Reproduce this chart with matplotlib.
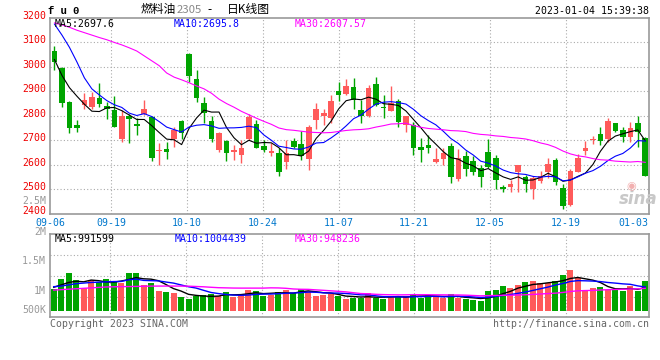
import numpy as np
import pandas as pd
import matplotlib
matplotlib.use("Agg")
import matplotlib.pyplot as plt
import matplotlib.transforms as mtransforms

# daily candles 2022-09-06 .. 2023-01-04, fu2305
opens = [3066, 2996, 2856, 2763, 2845, 2834, 2872, 2841, 2822, 2704,
         2800, 2767, 2807, 2796, 2655, 2662, 2706, 2779, 3054, 2951,
         2853, 2779, 2661, 2698, 2651, 2638, 2706, 2767, 2677, 2646,
         2648, 2609, 2698, 2685, 2625, 2784, 2797, 2789, 2902, 2889,
         2919, 2824, 2797, 2931, 2837, 2820, 2859, 2763, 2763, 2673,
         2681, 2609, 2621, 2677, 2542, 2636, 2616, 2587, 2653, 2627,
         2508, 2508, 2569, 2548, 2500, 2531, 2568, 2620, 2504, 2436,
         2570, 2657, 2700, 2726, 2706, 2769, 2743, 2711, 2769, 2709]
highs = [3086, 2998, 2861, 2782, 2894, 2898, 2934, 2856, 2882, 2824,
         2809, 2789, 2864, 2800, 2688, 2694, 2754, 2781, 3056, 2988,
         2875, 2797, 2732, 2700, 2681, 2702, 2807, 2782, 2702, 2688,
         2668, 2700, 2709, 2736, 2762, 2852, 2827, 2886, 2940, 2950,
         2954, 2865, 2927, 2957, 2886, 2920, 2870, 2800, 2774, 2709,
         2722, 2668, 2668, 2690, 2664, 2654, 2634, 2599, 2704, 2640,
         2518, 2539, 2600, 2559, 2552, 2575, 2627, 2629, 2522, 2582,
         2643, 2698, 2718, 2752, 2790, 2771, 2755, 2774, 2797, 2711]
lows = [2988, 2834, 2728, 2735, 2829, 2827, 2837, 2786, 2752, 2691,
        2689, 2723, 2804, 2613, 2599, 2624, 2674, 2706, 2940, 2856,
        2769, 2694, 2650, 2613, 2617, 2608, 2702, 2668, 2651, 2634,
        2552, 2584, 2668, 2617, 2579, 2744, 2763, 2770, 2859, 2886,
        2829, 2770, 2795, 2840, 2790, 2818, 2752, 2733, 2640, 2610,
        2646, 2608, 2599, 2523, 2535, 2552, 2559, 2507, 2588, 2501,
        2487, 2486, 2486, 2488, 2460, 2524, 2545, 2515, 2418, 2432,
        2568, 2640, 2684, 2679, 2692, 2733, 2692, 2692, 2674, 2553]
closes = [3018, 2854, 2751, 2748, 2865, 2875, 2847, 2827, 2755, 2800,
          2785, 2757, 2827, 2629, 2659, 2650, 2743, 2729, 2961, 2872,
          2810, 2703, 2730, 2646, 2661, 2668, 2793, 2670, 2661, 2654,
          2569, 2648, 2672, 2634, 2755, 2829, 2812, 2861, 2883, 2923,
          2864, 2797, 2913, 2842, 2830, 2852, 2773, 2800, 2670, 2658,
          2666, 2624, 2647, 2548, 2627, 2583, 2570, 2548, 2591, 2539,
          2501, 2519, 2599, 2522, 2545, 2554, 2603, 2528, 2429, 2572,
          2629, 2669, 2704, 2698, 2777, 2736, 2715, 2749, 2733, 2554]
# volume in millions of lots
volume_m = [0.970, 1.135, 1.245, 1.120, 0.985, 1.115, 1.085, 1.135, 1.105, 1.075,
            1.245, 1.245, 1.035, 1.075, 0.945, 0.925, 0.908, 0.832, 0.803, 0.858,
            0.870, 0.882, 0.853, 0.925, 0.842, 0.887, 0.953, 0.937, 0.853, 0.870,
            0.925, 0.953, 0.908, 0.970, 0.942, 0.858, 0.870, 0.882, 0.853, 0.803,
            0.825, 0.825, 0.908, 0.815, 0.803, 0.842, 0.858, 0.858, 0.887, 0.825,
            0.870, 0.832, 0.825, 0.887, 0.825, 0.798, 0.787, 0.770, 0.937, 0.953,
            1.020, 0.982, 1.037, 1.092, 1.103, 1.075, 1.065, 1.103, 1.203, 1.287,
            1.158, 0.953, 0.992, 1.008, 0.953, 0.970, 0.942, 1.025, 0.942, 1.103]

# moving average values before the window is full
ma5_head = [3030, 2965, 2915, 2880]
ma10_head = [3175, 3130, 3080, 3020, 2955, 2910, 2885, 2862, 2845]
ma30_head = [3180, 3172, 3162, 3150, 3140, 3130, 3120, 3111, 3100, 3090,
             3078, 3065, 3045, 3025, 3005, 2975, 2958, 2947, 2935, 2922,
             2910, 2892, 2868, 2850, 2835, 2818, 2804, 2790, 2777]
vma5_head = [1.00, 1.04, 1.08, 1.10]
vma10_head = [1.01, 1.02, 1.04, 1.06, 1.07, 1.08, 1.085, 1.09, 1.095]
vma30_head = [0.953, 0.96, 0.968, 0.975, 0.983, 0.99, 0.998, 1.005, 1.008, 1.01,
              1.012, 1.014, 1.017, 1.019, 1.02, 1.02, 1.02, 1.02, 1.018, 1.013,
              1.008, 1.0, 0.993, 0.99, 0.987, 0.986, 0.986, 0.986, 0.986]

date_labels = ["09-06", "09-19", "10-10", "10-24", "11-07", "11-21", "12-05", "12-19", "01-03"]
price_ticks = [2400, 2500, 2600, 2700, 2800, 2900, 3000, 3100, 3200]
vol_ticks = [0.5, 1.0, 1.5, 2.0, 2.5]
vol_tick_labels = ["500K", "1M", "1.5M", "2M", "2.5M"]

ma_price_text = ["MA5:2697.6", "MA10:2695.8", "MA30:2607.57"]
ma_vol_text = ["MA5:991599", "MA10:1004439", "MA30:948236"]

# layout
W, H = 660, 360
date_x = [-0.6, 7.55, 17.7, 27.85, 38.0, 48.05, 58.2, 68.35, 77.4]
vol_label_dy = [7.2, -3.7, -3.7, -5.0, -3.7]
UP, DOWN = "#ff5a5a", "#00a400"
MA_COLORS = ["black", "#0000ff", "#ff00ff"]
GRID = "#aaaaaa"
MONO = "DejaVu Sans Mono"
FS = 7.1


def moving_average(values, n, head):
    ma = pd.Series(values, dtype=float).rolling(n).mean().to_numpy()
    ma[:len(head)] = head
    return ma


def px(x):
    return x / W


def py(y):
    return 1 - y / H


def style_axes(ax):
    for s in ax.spines.values():
        s.set_color("#999999")
        s.set_linewidth(1.2)
    ax.tick_params(length=0)
    for gx in date_x[1:-1]:
        ax.axvline(gx, color=GRID, lw=0.8, ls=(0, (1, 2)), zorder=0)


def main():
    o = np.array(opens, float)
    c = np.array(closes, float)
    hi = np.array(highs, float)
    lo = np.array(lows, float)
    vol = np.array(volume_m, float) * 1e6
    x = np.arange(len(c))
    colors = [UP if cc >= oo else DOWN for oo, cc in zip(o, c)]

    fig = plt.figure(figsize=(W / 100, H / 100), dpi=100)
    fig.patch.set_facecolor("white")

    # ---- price panel
    ax = fig.add_axes([px(50), py(213.5), px(599), 195.5 / H])
    style_axes(ax)
    ax.set_xlim(-0.5, len(c) - 0.5)
    ax.set_ylim(2400, 3200)
    ax.set_yticks(price_ticks[1:-1])
    ax.set_yticklabels([])
    ax.grid(axis="y", color=GRID, lw=0.8, ls=(0, (1, 2)))
    ax.set_xticks(date_x, date_labels)
    ax.tick_params(axis="x", pad=3, labelcolor="#0077cc", labelsize=FS)
    for t in ax.get_xticklabels():
        t.set_fontfamily(MONO)

    ax.vlines(x, lo, hi, colors=colors, lw=1.0, zorder=2)
    body = np.maximum(np.abs(c - o), 4)
    ax.bar(x, body, bottom=np.minimum(o, c), width=0.75, color=colors, zorder=3)

    for n, head, col in zip([5, 10, 30], [ma5_head, ma10_head, ma30_head], MA_COLORS):
        ax.plot(x, moving_average(c, n, head), color=col, lw=0.8, zorder=4)

    trans = mtransforms.blended_transform_factory(ax.transAxes, ax.transData)
    trans = trans + mtransforms.ScaledTranslation(0, 2 / 100, fig.dpi_scale_trans)
    for v in price_ticks:
        ax.text(-4 / 599, v, str(v), transform=trans, ha="right", va="center",
                color="#ee0000", fontsize=FS, family=MONO, clip_on=False)

    for txt, col, xx in zip(ma_price_text, MA_COLORS, [55, 174, 295]):
        fig.text(px(xx), py(24), txt, color=col, fontsize=FS, family=MONO, va="center")

    # ---- volume panel
    av = fig.add_axes([px(50), py(317.3), px(599), 83 / H])
    style_axes(av)
    av.set_xlim(-0.5, len(c) - 0.5)
    vlo, vhi = 0.5e6, 1.882e6
    av.set_ylim(vlo, vhi)
    av.set_yticks(np.linspace(vlo, vhi, 5)[1:-1])
    av.set_yticklabels([])
    av.set_xticks([])
    av.grid(axis="y", color=GRID, lw=0.8, ls=(0, (1, 2)))
    vol_base = 0.608e6
    av.bar(x, vol - vol_base, bottom=vol_base, width=0.8, color=colors, zorder=2)
    for n, head, col in zip([5, 10, 30], [vma5_head, vma10_head, vma30_head], MA_COLORS):
        av.plot(x, moving_average(vol, n, np.array(head) * 1e6), color=col, lw=1.0, zorder=3)

    vtrans = mtransforms.blended_transform_factory(av.transAxes, av.transData)
    for v, t, dy in zip(vol_ticks, vol_tick_labels, vol_label_dy):
        tr = vtrans + mtransforms.ScaledTranslation(0, dy / 100, fig.dpi_scale_trans)
        av.text(-4 / 599, v * 1e6, t, transform=tr, ha="right", va="center",
                color="#999999", fontsize=FS, family=MONO, clip_on=False)

    for txt, col, xx in zip(ma_vol_text, MA_COLORS, [55, 175, 295]):
        fig.text(px(xx), py(238.5), txt, color=col, fontsize=FS, family=MONO, va="center")

    # ---- header / footer
    fig.text(px(48), py(11), "f u 0", fontsize=7.6, family="Liberation Mono",
             weight="bold", va="center")
    cjk = ["Noto Sans CJK SC", "DejaVu Sans"]
    fig.text(px(141), py(10), "燃料油", fontsize=8.5, family=cjk, va="center")
    fig.text(px(176.5), py(10), "2305", fontsize=8.2, family=cjk, va="center", color="#888888")
    fig.text(px(207), py(10), "-", fontsize=8.5, family=cjk, va="center")
    fig.text(px(227), py(10), "日K线图", fontsize=8.5, family=cjk, va="center")
    fig.text(px(649), py(11.5), "2023-01-04 15:39:38", fontsize=FS, family=MONO,
             ha="right", va="center")
    fig.text(px(50), py(324), "Copyright 2023 SINA.COM", fontsize=FS, family=MONO,
             va="center", color="#666666")
    fig.text(px(649), py(324), "http://finance.sina.com.cn", fontsize=FS, family=MONO,
             ha="right", va="center", color="#666666")
    fig.text(px(619), py(199), "sina", fontsize=12, weight="bold", style="italic",
             color="#c8c8c8", va="center")
    fig.text(px(626), py(186), "◉", fontsize=8, color="#f2b0b0", va="center")

    fig.savefig("out.png", dpi=100)


if __name__ == "__main__":
    main()
